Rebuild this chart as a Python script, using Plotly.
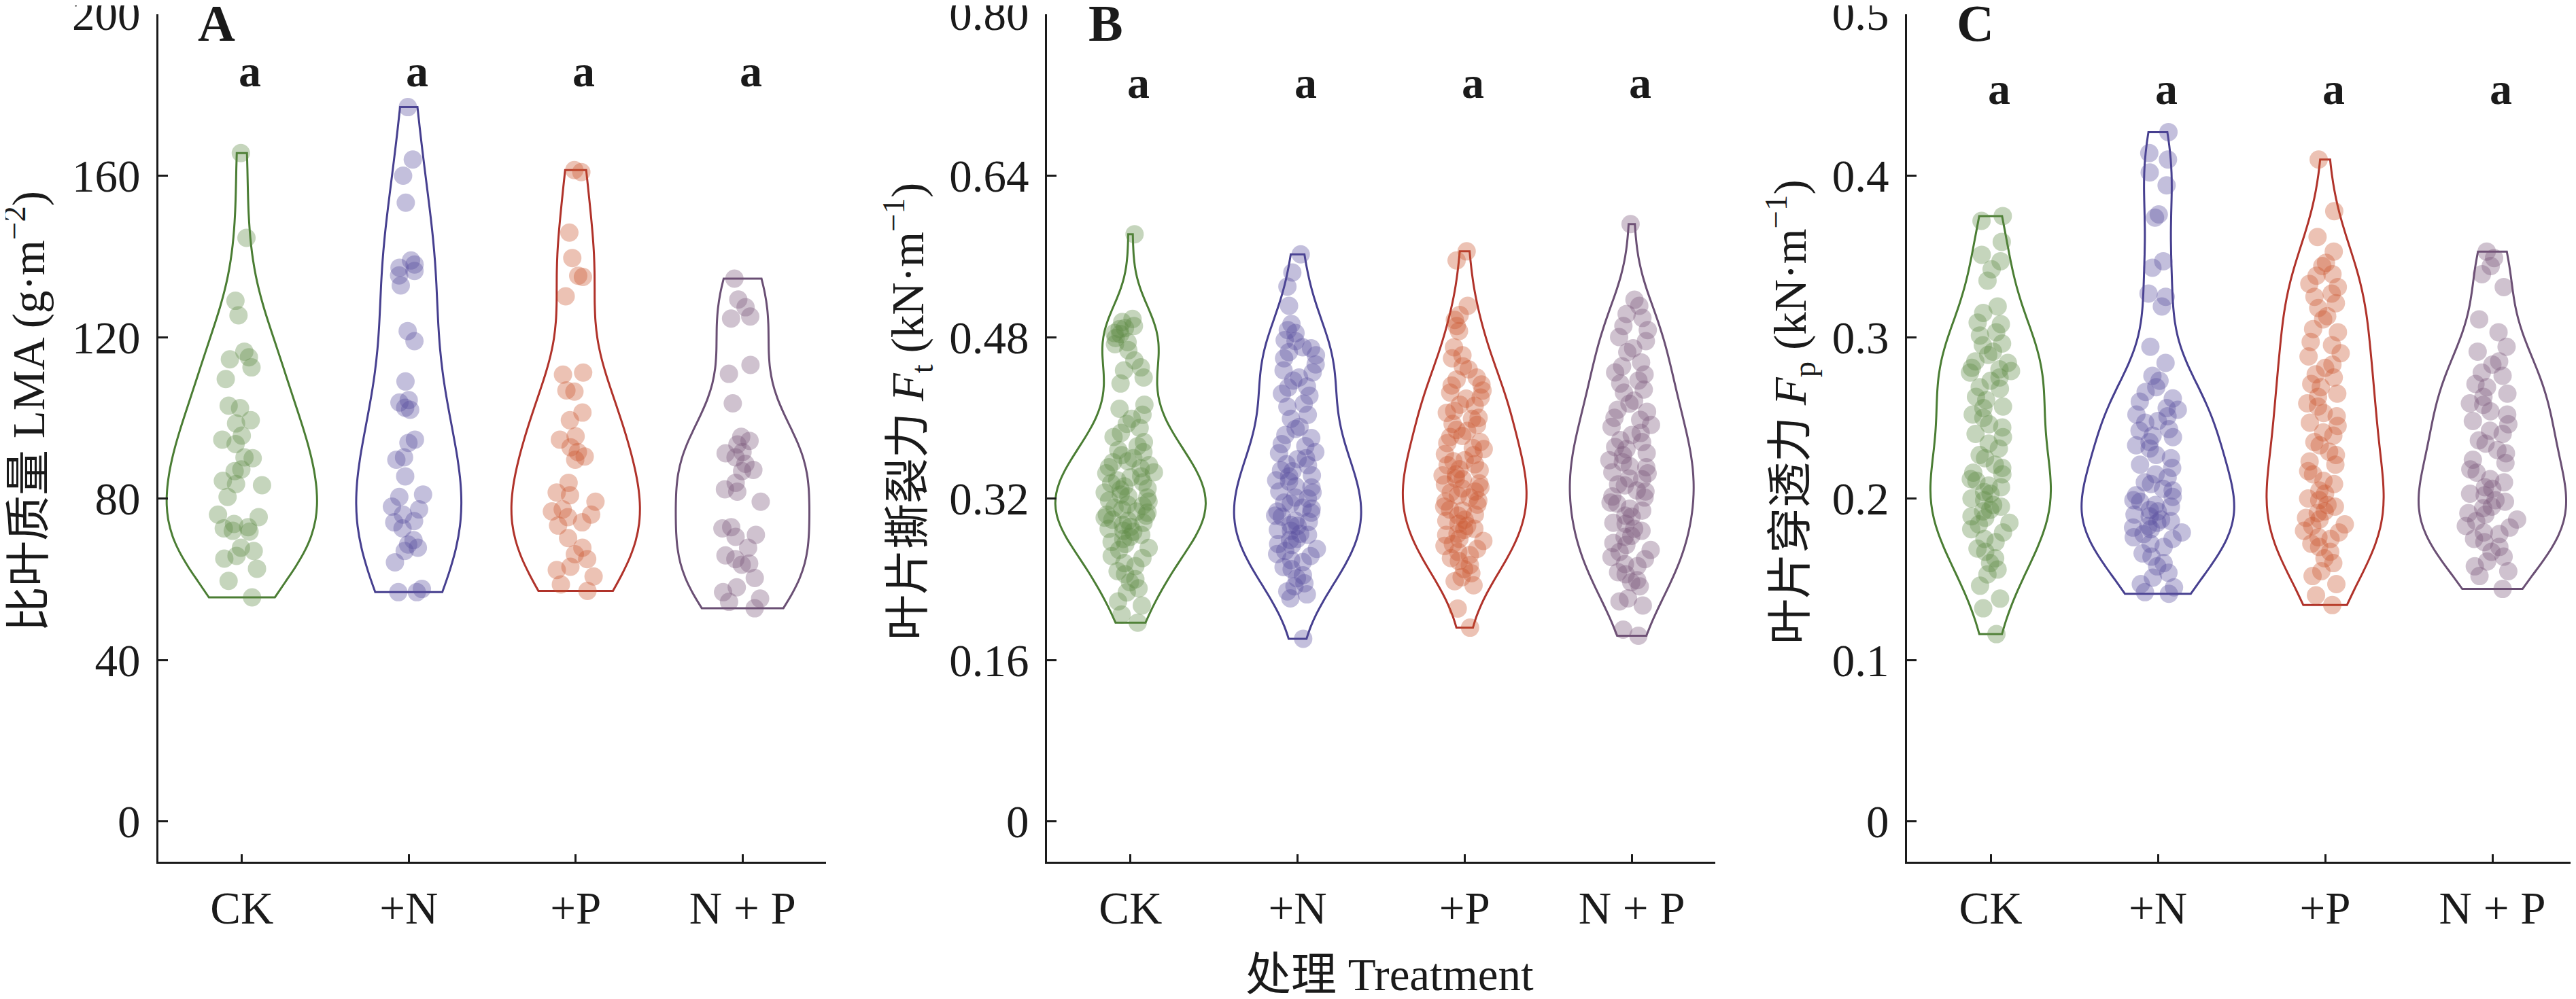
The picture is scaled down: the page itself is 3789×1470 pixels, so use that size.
import plotly.graph_objects as go

# treatment groups
groups = ["CK", "+N", "+P", "N + P"]

# panel A: specific leaf mass (g m-2)
lma_ck = [165.6, 144.6, 129.0, 125.4, 116.4, 115.0, 114.5, 112.5, 109.6, 103.0, 102.4, 99.4, 98.6,
          95.6, 94.6, 93.5, 90.2, 90.0, 87.2, 86.8, 84.4, 83.6, 83.3, 80.4, 76.0, 75.4, 73.7, 72.9,
          72.6, 72.0, 71.8, 67.8, 67.0, 65.8, 65.1, 62.6, 59.6, 55.5]
lma_n = [177.0, 164.0, 160.0, 153.3, 139.0, 138.0, 137.2, 136.4, 135.3, 132.8, 121.5, 119.0, 109.0,
         104.4, 103.8, 102.5, 102.0, 94.6, 93.8, 90.2, 89.6, 85.5, 81.0, 80.4, 78.0, 77.3, 76.0,
         74.4, 74.1, 72.6, 69.7, 68.6, 67.8, 67.0, 64.2, 57.6, 56.8, 56.8]
lma_p = [161.4, 160.9, 145.9, 139.6, 135.2, 134.9, 130.1, 111.2, 110.7, 106.8, 106.5, 101.3, 99.4,
         95.4, 94.6, 92.7, 91.5, 90.4, 89.6, 83.9, 81.5, 80.8, 79.2, 77.3, 76.8, 76.0, 75.4, 74.1,
         73.3, 70.2, 67.8, 66.2, 65.0, 63.1, 62.3, 60.7, 58.7, 57.1]
lma_np = [134.5, 129.3, 127.4, 125.1, 124.6, 113.1, 110.9, 103.6, 95.3, 94.3, 93.4, 91.5, 91.2, 90.2,
          88.6, 87.1, 86.8, 83.9, 82.3, 81.7, 79.2, 72.9, 72.6, 71.0, 70.5, 67.8, 65.9, 65.0, 63.9,
          63.6, 60.3, 58.0, 56.8, 55.2, 54.4, 52.8]

# panel B: tearing force Ft (kN m-1)
ft_ck = [0.582, 0.498, 0.495, 0.491, 0.489, 0.488, 0.484, 0.483, 0.479, 0.475, 0.473, 0.467, 0.457,
         0.450, 0.447, 0.440, 0.434, 0.413, 0.409, 0.403, 0.399, 0.394, 0.390, 0.385, 0.381, 0.376,
         0.372, 0.368, 0.366, 0.363, 0.360, 0.357, 0.356, 0.353, 0.351, 0.350, 0.346, 0.345, 0.342,
         0.341, 0.338, 0.336, 0.335, 0.332, 0.330, 0.329, 0.326, 0.324, 0.322, 0.321, 0.318, 0.317,
         0.314, 0.313, 0.311, 0.309, 0.307, 0.306, 0.304, 0.303, 0.301, 0.299, 0.298, 0.296, 0.294,
         0.292, 0.290, 0.288, 0.287, 0.284, 0.282, 0.280, 0.277, 0.275, 0.271, 0.269, 0.263, 0.261,
         0.256, 0.253, 0.248, 0.245, 0.240, 0.237, 0.231, 0.227, 0.218, 0.214, 0.205, 0.197]
ft_n = [0.562, 0.544, 0.530, 0.511, 0.493, 0.487, 0.484, 0.477, 0.476, 0.470, 0.469, 0.465, 0.462,
        0.459, 0.453, 0.447, 0.445, 0.440, 0.437, 0.431, 0.430, 0.424, 0.422, 0.414, 0.411, 0.403,
        0.399, 0.391, 0.389, 0.383, 0.380, 0.374, 0.372, 0.366, 0.365, 0.360, 0.359, 0.354, 0.353,
        0.348, 0.347, 0.343, 0.342, 0.338, 0.337, 0.332, 0.331, 0.327, 0.326, 0.321, 0.320, 0.316,
        0.315, 0.311, 0.310, 0.307, 0.306, 0.303, 0.302, 0.298, 0.297, 0.294, 0.293, 0.289, 0.288,
        0.285, 0.284, 0.280, 0.279, 0.275, 0.274, 0.270, 0.268, 0.265, 0.263, 0.259, 0.257, 0.252,
        0.250, 0.244, 0.241, 0.236, 0.233, 0.228, 0.225, 0.221, 0.181]
ft_p = [0.565, 0.556, 0.511, 0.502, 0.497, 0.491, 0.486, 0.470, 0.462, 0.459, 0.451, 0.448, 0.440,
        0.438, 0.433, 0.432, 0.427, 0.425, 0.420, 0.419, 0.413, 0.412, 0.407, 0.405, 0.400, 0.399,
        0.394, 0.393, 0.388, 0.387, 0.382, 0.381, 0.376, 0.375, 0.370, 0.369, 0.364, 0.363, 0.358,
        0.357, 0.354, 0.353, 0.349, 0.348, 0.344, 0.343, 0.340, 0.339, 0.335, 0.334, 0.331, 0.330,
        0.327, 0.326, 0.323, 0.321, 0.318, 0.317, 0.314, 0.312, 0.309, 0.308, 0.304, 0.303, 0.299,
        0.298, 0.295, 0.293, 0.290, 0.289, 0.285, 0.284, 0.280, 0.278, 0.275, 0.273, 0.270, 0.267,
        0.264, 0.261, 0.258, 0.254, 0.250, 0.246, 0.242, 0.238, 0.234, 0.211, 0.192]
ft_np = [0.592, 0.517, 0.511, 0.503, 0.499, 0.491, 0.487, 0.480, 0.476, 0.469, 0.465, 0.455, 0.451,
         0.445, 0.443, 0.437, 0.434, 0.428, 0.425, 0.417, 0.414, 0.408, 0.406, 0.400, 0.398, 0.393,
         0.391, 0.385, 0.383, 0.378, 0.376, 0.371, 0.369, 0.365, 0.363, 0.358, 0.356, 0.352, 0.351,
         0.346, 0.345, 0.340, 0.339, 0.334, 0.333, 0.328, 0.327, 0.322, 0.321, 0.316, 0.315, 0.310,
         0.308, 0.303, 0.302, 0.296, 0.295, 0.290, 0.288, 0.283, 0.282, 0.276, 0.274, 0.269, 0.267,
         0.262, 0.260, 0.255, 0.253, 0.247, 0.245, 0.239, 0.237, 0.233, 0.221, 0.218, 0.214, 0.190,
         0.184]

# panel C: punch force Fp (kN m-1)
fp_ck = [0.375, 0.372, 0.359, 0.351, 0.347, 0.342, 0.335, 0.319, 0.315, 0.309, 0.308, 0.303, 0.301,
         0.296, 0.295, 0.291, 0.289, 0.285, 0.284, 0.281, 0.280, 0.279, 0.278, 0.275, 0.273, 0.269,
         0.268, 0.263, 0.261, 0.257, 0.256, 0.252, 0.250, 0.246, 0.244, 0.240, 0.238, 0.234, 0.231,
         0.227, 0.225, 0.221, 0.219, 0.216, 0.215, 0.212, 0.211, 0.208, 0.207, 0.204, 0.203, 0.200,
         0.199, 0.196, 0.195, 0.193, 0.192, 0.189, 0.188, 0.185, 0.184, 0.181, 0.179, 0.175, 0.173,
         0.169, 0.167, 0.163, 0.160, 0.156, 0.153, 0.146, 0.138, 0.132, 0.116]
fp_n = [0.427, 0.414, 0.410, 0.402, 0.394, 0.376, 0.374, 0.347, 0.343, 0.327, 0.325, 0.319, 0.294,
        0.284, 0.276, 0.273, 0.269, 0.266, 0.262, 0.260, 0.256, 0.255, 0.252, 0.251, 0.248, 0.247,
        0.243, 0.242, 0.239, 0.238, 0.235, 0.233, 0.231, 0.227, 0.225, 0.221, 0.219, 0.215, 0.213,
        0.210, 0.209, 0.206, 0.205, 0.202, 0.201, 0.199, 0.198, 0.196, 0.195, 0.193, 0.192, 0.190,
        0.189, 0.187, 0.186, 0.185, 0.183, 0.182, 0.181, 0.179, 0.178, 0.176, 0.175, 0.172, 0.170,
        0.166, 0.164, 0.160, 0.158, 0.154, 0.151, 0.147, 0.145, 0.142, 0.141]
fp_p = [0.410, 0.378, 0.362, 0.353, 0.346, 0.344, 0.339, 0.338, 0.333, 0.331, 0.327, 0.325, 0.321,
        0.318, 0.313, 0.311, 0.305, 0.303, 0.297, 0.295, 0.290, 0.288, 0.283, 0.281, 0.277, 0.275,
        0.271, 0.269, 0.265, 0.263, 0.259, 0.257, 0.253, 0.251, 0.247, 0.245, 0.241, 0.239, 0.235,
        0.233, 0.229, 0.227, 0.223, 0.221, 0.217, 0.215, 0.211, 0.209, 0.205, 0.203, 0.200, 0.199,
        0.196, 0.195, 0.192, 0.191, 0.188, 0.187, 0.184, 0.183, 0.180, 0.179, 0.176, 0.175, 0.172,
        0.170, 0.167, 0.163, 0.160, 0.155, 0.152, 0.147, 0.140, 0.134]
fp_np = [0.353, 0.349, 0.344, 0.339, 0.331, 0.311, 0.303, 0.294, 0.291, 0.285, 0.283, 0.278, 0.276,
         0.271, 0.269, 0.265, 0.263, 0.259, 0.258, 0.254, 0.252, 0.248, 0.246, 0.242, 0.240, 0.236,
         0.234, 0.230, 0.228, 0.224, 0.222, 0.218, 0.216, 0.212, 0.210, 0.207, 0.206, 0.203, 0.202,
         0.199, 0.198, 0.195, 0.194, 0.191, 0.190, 0.187, 0.186, 0.183, 0.182, 0.179, 0.178, 0.175,
         0.173, 0.170, 0.167, 0.164, 0.161, 0.158, 0.155, 0.152, 0.144]

# widest part of each violin, in category units
widths_a = [0.90, 0.63, 0.77, 0.80]
widths_b = [0.90, 0.76, 0.74, 0.74]
widths_c = [0.72, 0.91, 0.70, 0.88]

line_colors = ["#4a7d33", "#463f8f", "#b0322a", "#6a4f74"]
point_colors = ["#5f8a44", "#5a4d9e", "#c9572f", "#7a5679"]

panels = [
    ([lma_ck, lma_n, lma_p, lma_np], widths_a, "x", "y"),
    ([ft_ck, ft_n, ft_p, ft_np], widths_b, "x2", "y2"),
    ([fp_ck, fp_n, fp_p, fp_np], widths_c, "x3", "y3"),
]

FONT = "Liberation Serif, Times New Roman, Noto Sans CJK SC"
W, H = 3789, 1470
OFF = 8  # page body margin
FS = 67


def fx(px):
    return (px - OFF) / W


def fy(py):
    return 1 - (py - OFF) / H


fig = go.Figure()
for k, (series, widths, xa, ya) in enumerate(panels):
    for j, (g, vals, lc, pc) in enumerate(zip(groups, series, line_colors, point_colors)):
        fig.add_trace(go.Violin(
            x=[g] * len(vals), y=vals, xaxis=xa, yaxis=ya,
            name=g, scalegroup="p%d_%d" % (k, j), scalemode="width", width=widths[j],
            spanmode="hard", points="all", pointpos=0, jitter=0.38,
            line=dict(color=lc, width=3), fillcolor="rgba(0,0,0,0)",
            marker=dict(color=pc, size=27, opacity=0.36, line=dict(width=0)),
            box_visible=False, meanline_visible=False, showlegend=False,
        ))

axis_common = dict(showline=True, linecolor="#1a1a1a", linewidth=3, showgrid=False, zeroline=False,
                   ticks="inside", tickcolor="#1a1a1a", tickwidth=3, ticklabeloverflow="allow",
                   automargin=False, tickfont=dict(family=FONT, size=FS, color="#1a1a1a"))

fig.update_layout(
    width=W, height=H, plot_bgcolor="white", paper_bgcolor="white",
    margin=dict(l=0, r=0, t=0, b=0),
    font=dict(family=FONT, color="#1a1a1a"),
)

x_px = [(233, 1215), (1540, 2523), (2805, 3789)]
y_dom = [fy(1268), fy(21)]
for i, (x0, x1) in enumerate(x_px):
    sx = "" if i == 0 else str(i + 1)
    fig.layout["xaxis" + sx] = dict(axis_common, domain=[fx(x0), min(fx(x1), 1.0)], anchor="y" + sx,
                                    type="category", categoryorder="array", categoryarray=groups,
                                    range=[-0.5, 3.5], ticklen=11, ticklabelstandoff=8)
    fig.layout["yaxis" + sx] = dict(axis_common, domain=y_dom, anchor="x" + sx, ticklen=14,
                                    ticklabelstandoff=10)

fig.layout.yaxis.update(range=[-10, 200], tickvals=[0, 40, 80, 120, 160, 200])
fig.layout.yaxis2.update(range=[-0.04, 0.80], tickvals=[0, 0.16, 0.32, 0.48, 0.64, 0.80],
                         ticktext=["0", "0.16", "0.32", "0.48", "0.64", "0.80"])
fig.layout.yaxis3.update(range=[-0.025, 0.5], tickvals=[0, 0.1, 0.2, 0.3, 0.4, 0.5],
                         ticktext=["0", "0.1", "0.2", "0.3", "0.4", "0.5"])

# significance letters
sig_y = [186, 0.732, 0.454]
for i, yv in enumerate(sig_y):
    sx = "" if i == 0 else str(i + 1)
    for g in groups:
        fig.add_annotation(x=g, y=yv, xref="x" + sx, yref="y" + sx, text="<b>a</b>", showarrow=False,
                           xanchor="center", yanchor="middle", xshift=12,
                           font=dict(family=FONT, size=66, color="#1a1a1a"))

# panel letters
for lab, px in zip(["A", "B", "C"], [318, 1626, 2905]):
    fig.add_annotation(x=fx(px), y=fy(34), xref="paper", yref="paper", text="<b>%s</b>" % lab,
                       showarrow=False, xanchor="center", yanchor="middle",
                       font=dict(family=FONT, size=76, color="#1a1a1a"))

# axis titles
ytitles = ["比叶质量 LMA (g·m<sup>−2</sup>)",
           "叶片撕裂力 <i>F</i><sub>t</sub> (kN·m<sup>−1</sup>)",
           "叶片穿透力 <i>F</i><sub>p</sub> (kN·m<sup>−1</sup>)"]
for t, px in zip(ytitles, [38, 1335, 2633]):
    fig.add_annotation(x=fx(px), y=fy(606), xref="paper", yref="paper", text=t, textangle=-90,
                       showarrow=False, xanchor="center", yanchor="middle",
                       font=dict(family=FONT, size=FS, color="#1a1a1a"))

fig.add_annotation(x=fx(2044), y=fy(1434), xref="paper", yref="paper", text="处理 Treatment",
                   showarrow=False, xanchor="center", yanchor="middle",
                   font=dict(family=FONT, size=FS, color="#1a1a1a"))

fig.write_html("out.html")
